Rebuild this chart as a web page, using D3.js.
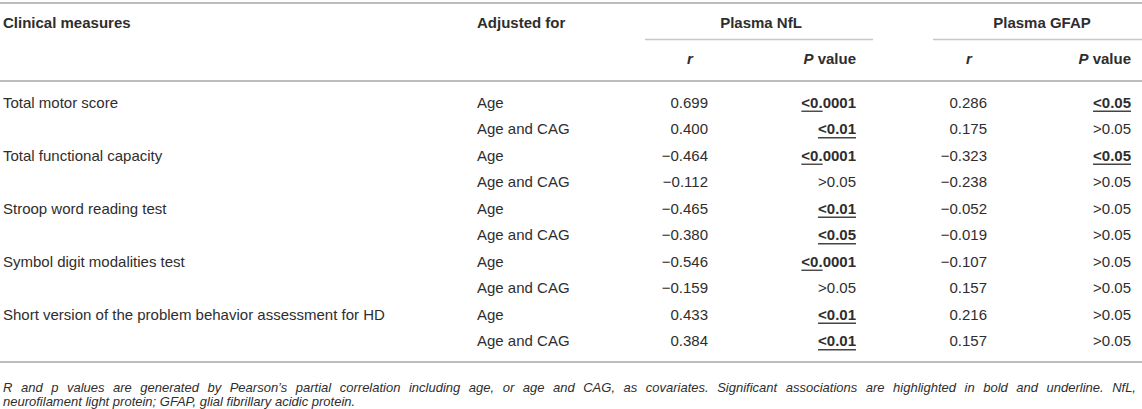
<!DOCTYPE html>
<html>
<head>
<meta charset="utf-8">
<script src="https://cdn.jsdelivr.net/npm/d3@7"></script>
<style>
  body { margin: 0; background: #fff; }
  svg { display: block; font-family: "Liberation Sans", Arial, Helvetica, sans-serif; }
</style>
</head>
<body>
<svg width="1142" height="409"></svg>
<script>
// table content
var measures = ["Total motor score", "Total functional capacity", "Stroop word reading test",
                "Symbol digit modalities test", "Short version of the problem behavior assessment for HD"];
var adjusted = ["Age", "Age and CAG"];
var nflR  = ["0.699", "0.400", "\u22120.464", "\u22120.112", "\u22120.465", "\u22120.380", "\u22120.546", "\u22120.159", "0.433", "0.384"];
var nflP  = ["<0.0001", "<0.01", "<0.0001", ">0.05", "<0.01", "<0.05", "<0.0001", ">0.05", "<0.01", "<0.01"];
var gfapR = ["0.286", "0.175", "\u22120.323", "\u22120.238", "\u22120.052", "\u22120.019", "\u22120.107", "0.157", "0.216", "0.157"];
var gfapP = ["<0.05", ">0.05", "<0.05", ">0.05", ">0.05", ">0.05", ">0.05", ">0.05", ">0.05", ">0.05"];
var footnote = ["R and p values are generated by Pearson\u2019s partial correlation including age, or age and CAG, as covariates. Significant associations are highlighted in bold and underline. NfL,",
                "neurofilament light protein; GFAP, glial fibrillary acidic protein."];

var svg = d3.select("svg"),
    W = +svg.attr("width"),
    txt = "#2e2e2e",
    rule = "#bdbdbd",
    fs = 15;

var rows = d3.range(measures.length * adjusted.length);

var y = d3.scaleBand()
    .domain(rows)
    .range([89, 89 + rows.length * 26.5]);

// anchor x for each column
var x = d3.scaleOrdinal()
    .domain(["measure", "adj", "nflR", "nflP", "gfapR", "gfapP"])
    .range([3, 477, 708, 856, 987, 1131]);

function hline(y0, x0, x1, w, c) {
  svg.append("line")
      .attr("x1", x0).attr("x2", x1)
      .attr("y1", y0).attr("y2", y0)
      .attr("stroke", c || rule)
      .attr("stroke-width", w);
}

// rules
hline(3, 0, W, 2);
hline(39.5, 645, 873, 1.5, "#c8c8c8");
hline(39.5, 933, W, 1.5, "#c8c8c8");
hline(81, 0, W, 2);
hline(y.range()[1] + 8, 0, W, 2);

// header
var head = svg.append("g")
    .attr("font-size", fs)
    .attr("font-weight", "bold")
    .attr("fill", txt);

head.append("text").attr("x", x("measure")).attr("y", 23).attr("dy", "0.35em").text("Clinical measures");
head.append("text").attr("x", x("adj")).attr("y", 23).attr("dy", "0.35em").text("Adjusted for");
head.append("text").attr("x", 761).attr("y", 23).attr("dy", "0.35em").attr("text-anchor", "middle").text("Plasma NfL");
head.append("text").attr("x", 1042).attr("y", 23).attr("dy", "0.35em").attr("text-anchor", "middle").text("Plasma GFAP");

[["nflR", "nflP"], ["gfapR", "gfapP"]].forEach(function(k) {
  head.append("text")
      .attr("x", x(k[0]) - 18).attr("y", 59).attr("dy", "0.35em")
      .attr("text-anchor", "middle")
      .attr("font-style", "italic")
      .text("r");
  var t = head.append("text")
      .attr("x", x(k[1])).attr("y", 59).attr("dy", "0.35em")
      .attr("text-anchor", "end");
  t.append("tspan").attr("font-style", "italic").text("P");
  t.append("tspan").text(" value");
});

// body
var body = svg.append("g")
    .attr("font-size", fs)
    .attr("fill", txt);

function cy(i) { return y(i) + y.bandwidth() / 2; }

body.selectAll("text.measure")
  .data(measures)
  .enter().append("text")
    .attr("class", "measure")
    .attr("x", x("measure"))
    .attr("y", function(d, i) { return cy(i * adjusted.length); })
    .attr("dy", "0.35em")
    .text(function(d) { return d; });

body.selectAll("text.adj")
  .data(rows)
  .enter().append("text")
    .attr("class", "adj")
    .attr("x", x("adj"))
    .attr("y", function(d) { return cy(d); })
    .attr("dy", "0.35em")
    .text(function(d) { return adjusted[d % adjusted.length]; });

function rCol(key, vals) {
  body.selectAll("text." + key)
    .data(vals)
    .enter().append("text")
      .attr("class", key)
      .attr("x", x(key))
      .attr("y", function(d, i) { return cy(i); })
      .attr("dy", "0.35em")
      .attr("text-anchor", "end")
      .text(function(d) { return d; });
}

function pCol(key, vals) {
  var sel = body.selectAll("text." + key)
    .data(vals)
    .enter().append("text")
      .attr("class", key)
      .attr("x", x(key))
      .attr("y", function(d, i) { return cy(i); })
      .attr("dy", "0.35em")
      .attr("text-anchor", "end")
      .attr("font-weight", function(d) { return d[0] === "<" ? "bold" : null; })
      .text(function(d) { return d; });

  // underline the significant ones
  sel.each(function(d, i) {
    if (d[0] !== "<") return;
    var w = this.getComputedTextLength(),
        x1 = x(key),
        x0 = x1 - w;
    // the 0.0001 entries are only underlined under "<0."
    if (d === "<0.0001") x1 = x0 + this.getSubStringLength(0, 3);
    body.append("line")
        .attr("x1", x0).attr("x2", x1)
        .attr("y1", cy(i) + 9).attr("y2", cy(i) + 9)
        .attr("stroke", "#444")
        .attr("stroke-width", 1.4);
  });
}

rCol("nflR", nflR);
pCol("nflP", nflP);
rCol("gfapR", gfapR);
pCol("gfapP", gfapP);

// footnote, first line justified to full width
var foot = svg.append("g")
    .attr("font-size", 13)
    .attr("font-style", "italic")
    .attr("fill", txt);

var f1 = foot.append("text")
    .attr("x", 3).attr("y", 392)
    .text(footnote[0]);
var spaces = footnote[0].split(" ").length - 1,
    extra = (1136 - 3) - f1.node().getComputedTextLength();
f1.attr("word-spacing", extra / spaces);

foot.append("text")
    .attr("x", 3).attr("y", 406)
    .text(footnote[1]);
</script>
</body>
</html>
